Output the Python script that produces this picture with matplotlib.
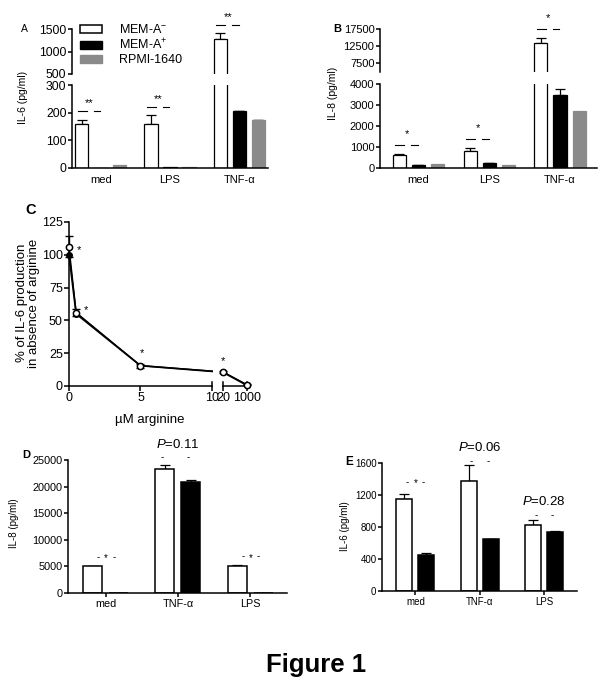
import numpy as np
import matplotlib
matplotlib.use('Agg')
import matplotlib.pyplot as plt
from matplotlib.patches import Patch
from matplotlib.transforms import offset_copy

plt.rcParams['font.family'] = ['Liberation Sans', 'DejaVu Sans']
plt.rcParams['mathtext.fontset'] = 'custom'
plt.rcParams['mathtext.rm'] = 'Liberation Sans'
plt.rcParams['mathtext.it'] = 'Liberation Sans:italic'
plt.rcParams['axes.linewidth'] = 1.1

# ---------------- data ----------------
series_labels = ['MEM-A$^{-}$', 'MEM-A$^{+}$', 'RPMI-1640']

# Panel A : IL-6 (pg/ml)
a_cats = ['med', 'LPS', 'TNF-α']
a_mem_minus = [160, 158, 1280]
a_mem_minus_err = [15, 33, 130]
a_mem_plus = [0, 5, 205]
a_mem_plus_err = [0, 0, 2]
a_rpmi = [10, 5, 172]
a_rpmi_err = [0, 0, 2]
a_sig = ['**', '**', '**']

# Panel B : IL-8 (pg/ml)
b_cats = ['med', 'LPS', 'TNF-α']
b_mem_minus = [620, 820, 13400]
b_mem_minus_err = [50, 150, 1450]
b_mem_plus = [150, 220, 3500]
b_mem_plus_err = [10, 20, 250]
b_rpmi = [170, 160, 2700]
b_rpmi_err = [0, 0, 0]
b_sig = ['*', '*', '*']

# Panel C : % of IL-6 production vs arginine
c_arginine = [0, 0.5, 5, 20, 1000]
c_pct_open = [106, 56, 15.5, 10.7, 1]
c_pct_open_err = [8, 3, 1.5, 1, 0.5]
c_pct_filled = [100, 55, 15.5, 10.5, 0.5]
c_sig = ['*', '*', '*', '*']
c_xticks = [0, 5, 10, 20, 1000]

# Panel D : IL-8 (pg/ml)
d_cats = ['med', 'TNF-α', 'LPS']
d_mem_minus = [5000, 23400, 5100]
d_mem_minus_err = [150, 700, 200]
d_mem_plus = [0, 20900, 0]
d_mem_plus_err = [0, 400, 0]
d_pvals = ['', '$P$=0.11', '']
d_star = ['*', '', '*']

# Panel E : IL-6 (pg/ml)
e_cats = ['med', 'TNF-α', 'LPS']
e_mem_minus = [1150, 1380, 830]
e_mem_minus_err = [60, 190, 60]
e_mem_plus = [450, 650, 740]
e_mem_plus_err = [30, 3, 10]
e_pvals = ['', '$P$=0.06', '$P$=0.28']
e_star = ['*', '', '']

WHITE, BLACK, GRAY = 'white', 'black', '#8a8a8a'

# ---------------- figure ----------------
W, H = 600, 696
fig = plt.figure(figsize=(W / 100, H / 100), dpi=100)


def px_axes(x0, y0, x1, y1):
    return fig.add_axes([x0 / W, 1 - y1 / H, (x1 - x0) / W, (y1 - y0) / H])


def style_axes(ax, fs_tick, show_bottom=True, xtick_len=0, fs_cat=8, xpad=5):
    ax.set_facecolor('none')
    for s in ['top', 'right']:
        ax.spines[s].set_visible(False)
    ax.tick_params(axis='y', direction='out', length=3, width=1.1, pad=1,
                   labelsize=fs_tick)
    if show_bottom:
        ax.tick_params(axis='x', direction='out', length=xtick_len, width=1.1,
                       pad=xpad, labelsize=fs_cat)
    else:
        ax.spines['bottom'].set_visible(False)
        ax.tick_params(axis='x', bottom=False, labelbottom=False)


def draw_bars(ax, x, vals, errs, color, edge, width, lw=0.9):
    ax.bar(x, vals, width, color=color, edgecolor=edge, linewidth=lw, zorder=2)
    if errs is not None:
        idx = [i for i, e in enumerate(errs) if e > 0]
        if idx:
            ax.errorbar(np.asarray(x)[idx], np.asarray(vals)[idx],
                        yerr=[np.zeros(len(idx)), np.asarray(errs)[idx]],
                        fmt='none', ecolor='black', elinewidth=0.9,
                        capsize=3.6, capthick=0.9, zorder=1)


def sig_bracket(ax, xc, ytop, text, dash_off, text_off, fs=8):
    tr = offset_copy(ax.transData, fig=fig, x=0, y=dash_off, units='points')
    for a, b in [(-0.33, -0.20), (-0.10, -0.01)]:
        ax.plot([xc + a, xc + b], [ytop, ytop], color='black', lw=0.8,
                transform=tr, clip_on=False)
    ax.annotate(text, (xc - 0.165, ytop), xytext=(0, text_off),
                textcoords='offset points', ha='center', va='baseline',
                fontsize=fs, annotation_clip=False)


# ======== Panel A ========
axA_t = px_axes(72, 29, 268, 74)
axA_b = px_axes(72, 85, 268, 168)
offA, wA = 0.275, 0.19
xA = np.arange(len(a_cats))
for ax in (axA_t, axA_b):
    draw_bars(ax, xA - offA, a_mem_minus, a_mem_minus_err, WHITE, BLACK, wA)
    draw_bars(ax, xA, a_mem_plus, a_mem_plus_err, BLACK, BLACK, wA)
    draw_bars(ax, xA + offA, a_rpmi, a_rpmi_err, GRAY, GRAY, wA)
    ax.set_xlim(-0.415, 2.415)
axA_t.set_ylim(500, 1500)
axA_t.set_yticks([500, 1000, 1500])
axA_b.set_ylim(0, 300)
axA_b.set_yticks([0, 100, 200, 300])
axA_b.set_xticks(xA)
axA_b.set_xticklabels(a_cats)
style_axes(axA_t, 8.8, show_bottom=False)
style_axes(axA_b, 8.8, fs_cat=8)
for i, s in enumerate(a_sig):
    top = a_mem_minus[i] + a_mem_minus_err[i]
    ax = axA_t if top > 300 else axA_b
    sig_bracket(ax, xA[i], top, s, 6, 9.5)
fig.text(22.5 / W, 1 - 97 / H, 'IL-6 (pg/ml)', rotation=90, ha='center',
         va='center', fontsize=7.5)
fig.text(24 / W, 1 - 28.5 / H, 'A', ha='center', va='center', fontsize=7.5)
handles = [Patch(facecolor=WHITE, edgecolor=BLACK, linewidth=1.1),
           Patch(facecolor=BLACK, edgecolor=BLACK),
           Patch(facecolor=GRAY, edgecolor=GRAY)]
fig.legend(handles, series_labels, loc='upper left',
           bbox_to_anchor=(80 / W, 1 - 23 / H), frameon=False, fontsize=9,
           handlelength=1.75, handleheight=0.6, handletextpad=1.35,
           labelspacing=0.12, borderpad=0, borderaxespad=0)

# ======== Panel B ========
axB_t = px_axes(380, 29, 597, 71.5)
axB_b = px_axes(380, 84, 597, 168)
offB, wB = 0.27, 0.185
xB = np.arange(len(b_cats))
for ax in (axB_t, axB_b):
    draw_bars(ax, xB - offB, b_mem_minus, b_mem_minus_err, WHITE, BLACK, wB)
    draw_bars(ax, xB, b_mem_plus, b_mem_plus_err, BLACK, BLACK, wB)
    draw_bars(ax, xB + offB, b_rpmi, b_rpmi_err, GRAY, GRAY, wB)
    ax.set_xlim(-0.544, 2.523)
axB_t.set_ylim(5000, 17500)
axB_t.set_yticks([7500, 12500, 17500])
axB_b.set_ylim(0, 4000)
axB_b.set_yticks([0, 1000, 2000, 3000, 4000])
axB_b.set_xticks(xB)
axB_b.set_xticklabels(b_cats)
style_axes(axB_t, 8, show_bottom=False)
style_axes(axB_b, 8, fs_cat=8)
for i, s in enumerate(b_sig):
    top = b_mem_minus[i] + b_mem_minus_err[i]
    ax = axB_t if top > 4000 else axB_b
    sig_bracket(ax, xB[i], top, s, 6.5, 12)
fig.text(333 / W, 1 - 93 / H, 'IL-8 (pg/ml)', rotation=90, ha='center',
         va='center', fontsize=7.5)
fig.text(337 / W, 1 - 29.5 / H, 'B', ha='center', va='center', fontsize=8,
         weight='bold')

# ======== Panel C ========
def c_fwd(x):
    x = np.asarray(x, dtype=float)
    gap = 10 + (x - 10) / 10 * 0.77
    seg2 = 10.77 + np.log10(np.maximum(x, 20) / 20) / np.log10(50) * 1.68
    return np.where(x <= 10, x, np.where(x < 20, gap, seg2))


def c_inv(p):
    p = np.clip(np.asarray(p, dtype=float), -100, 30)
    gap = 10 + (p - 10) / 0.77 * 10
    seg2 = 20 * 50 ** ((p - 10.77) / 1.68)
    return np.where(p <= 10, p, np.where(p < 10.77, gap, seg2))


axC = px_axes(69, 222, 247, 386)
axC.set_xscale('function', functions=(c_fwd, c_inv))
axC.set_xlim(0, 1000)
axC.set_ylim(0, 125)
axC.plot(c_arginine, c_pct_filled, color='black', lw=1.3, zorder=2,
         clip_on=False)
axC.plot(c_arginine, c_pct_open, color='black', lw=1.0, zorder=2,
         clip_on=False)
axC.axvspan(10.5, 19.3, ymin=0.015, ymax=1, color='white', zorder=3, lw=0)
axC.errorbar(c_arginine, c_pct_open, yerr=c_pct_open_err, fmt='none',
             ecolor='black', elinewidth=1.0, capsize=3, capthick=1.0,
             zorder=4, clip_on=False)
axC.plot(c_arginine, c_pct_filled, ls='none', marker='o', ms=4,
         mfc='black', mec='black', zorder=5, clip_on=False)
axC.plot(c_arginine, c_pct_open, ls='none', marker='o', ms=4.5,
         mfc='white', mec='black', mew=1.1, zorder=6, clip_on=False)
for s in ['top', 'right']:
    axC.spines[s].set_visible(False)
axC.spines['bottom'].set_bounds(0, 10)
axC.plot([20, 1000], [0, 0], color='black', lw=1.1, clip_on=False,
         transform=axC.get_xaxis_transform())
for v in [10, 20, 1000]:
    axC.plot([v, v], [0, 0.025], color='black', lw=1.1, clip_on=False,
             transform=axC.get_xaxis_transform())
axC.set_xticks(c_xticks)
axC.set_xticklabels([str(v) for v in c_xticks])
axC.xaxis.set_minor_locator(matplotlib.ticker.NullLocator())
axC.set_yticks([0, 25, 50, 75, 100, 125])
axC.tick_params(axis='both', direction='out', length=3.5, width=1.1, pad=1,
                labelsize=9)
c_sig_offsets = [(7, -2), (7, 2), (1, 9), (0, 8)]
for i, s in enumerate(c_sig):
    axC.annotate(s, (c_arginine[i], c_pct_open[i]), xytext=c_sig_offsets[i],
                 textcoords='offset points', ha='center', va='center',
                 fontsize=8, annotation_clip=False)
fig.text(28 / W, 1 - 303 / H, '% of IL-6 production\nin absence of arginine',
         rotation=90, ha='center', va='center', fontsize=9.5,
         linespacing=1.0)
fig.text(150 / W, 1 - 420 / H, 'µM arginine', ha='center', va='center',
         fontsize=9.5)
fig.text(30.5 / W, 1 - 210 / H, 'C', ha='center', va='center', fontsize=10.5,
         weight='bold')


# ======== Panels D and E ========
def two_bar_panel(ax, cats, v1, e1, v2, e2, off, w, xlim, ylim, yticks,
                  fs_tick, fs_cat):
    x = np.arange(len(cats))
    draw_bars(ax, x - off, v1, e1, WHITE, BLACK, w, lw=1.1)
    draw_bars(ax, x + off, v2, e2, BLACK, BLACK, w, lw=1.1)
    ax.set_xlim(*xlim)
    ax.set_ylim(*ylim)
    ax.set_yticks(yticks)
    ax.set_xticks(x)
    ax.set_xticklabels(cats)
    style_axes(ax, fs_tick, xtick_len=3, fs_cat=fs_cat, xpad=1.5)
    return x


def mark(ax, x, y, s, off_pt, fs=7):
    ax.annotate(s, (x, y), xytext=(0, off_pt), textcoords='offset points',
                ha='center', va='baseline', fontsize=fs,
                annotation_clip=False)


axD = px_axes(68, 460, 287, 593)
xD = two_bar_panel(axD, d_cats, d_mem_minus, d_mem_minus_err, d_mem_plus,
                   d_mem_plus_err, 0.18, 0.263, (-0.52, 2.51), (0, 25000),
                   [0, 5000, 10000, 15000, 20000, 25000], 7.8, 7.8)
for i in range(len(d_cats)):
    top = max(d_mem_minus[i] + d_mem_minus_err[i],
              d_mem_plus[i] + d_mem_plus_err[i])
    if d_star[i]:
        mark(axD, xD[i] - 0.10, top, '-', 4)
        mark(axD, xD[i] + 0.005, top, d_star[i], 3)
        mark(axD, xD[i] + 0.115, top, '-', 4)
    if d_pvals[i]:
        mark(axD, xD[i] - 0.21, top, '-', 3)
        mark(axD, xD[i] + 0.14, top, '-', 3)
        mark(axD, xD[i], top, d_pvals[i], 12, fs=9.5)
fig.text(14 / W, 1 - 523 / H, 'IL-8 (pg/ml)', rotation=90, ha='center',
         va='center', fontsize=7)
fig.text(26 / W, 1 - 455 / H, 'D', ha='center', va='center', fontsize=8,
         weight='bold')

axE = px_axes(382, 463, 577, 591)
xE = two_bar_panel(axE, e_cats, e_mem_minus, e_mem_minus_err, e_mem_plus,
                   e_mem_plus_err, 0.172, 0.25, (-0.52, 2.515), (0, 1600),
                   [0, 400, 800, 1200, 1600], 7, 7)
for i in range(len(e_cats)):
    top = max(e_mem_minus[i] + e_mem_minus_err[i],
              e_mem_plus[i] + e_mem_plus_err[i])
    if e_star[i]:
        mark(axE, xE[i] - 0.125, top, '-', 6.5)
        mark(axE, xE[i], top, e_star[i], 5.5)
        mark(axE, xE[i] + 0.125, top, '-', 6.5)
    if e_pvals[i]:
        mark(axE, xE[i] - 0.125, top, '-', 1)
        mark(axE, xE[i] + 0.125, top, '-', 1)
        mark(axE, xE[i], top, e_pvals[i], 10.5, fs=9.5)
fig.text(345 / W, 1 - 526 / H, 'IL-6 (pg/ml)', rotation=90, ha='center',
         va='center', fontsize=7)
fig.text(349 / W, 1 - 462 / H, 'E', ha='center', va='center', fontsize=8.5,
         weight='bold')

fig.text(316 / W, 1 - 665 / H, 'Figure 1', ha='center', va='center',
         fontsize=18.5, weight='bold')

fig.savefig('out.png', dpi=100)
